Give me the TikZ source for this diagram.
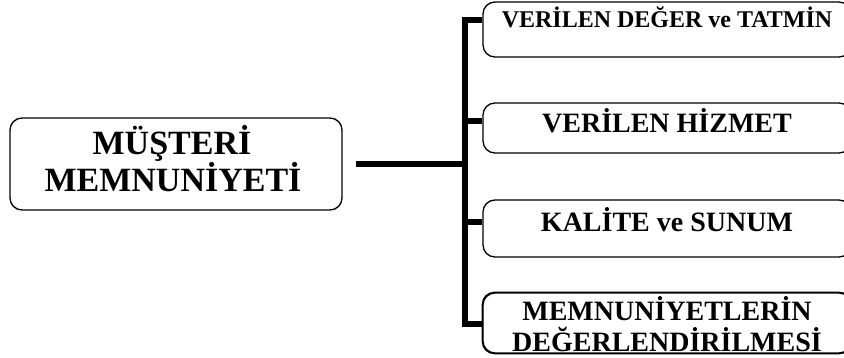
\documentclass[tikz,border=0pt]{standalone}
\usepackage{fontspec}
\setmainfont{Liberation Serif}
\begin{document}
\begin{tikzpicture}[x=1pt,y=-1pt,
  box/.style={draw=black, line width=1.3pt, rounded corners=12pt, inner sep=0pt, fill=white},
  bigtxt/.style={font=\fontsize{34}{38}\selectfont\bfseries, anchor=base, inner sep=0pt},
  midtxt/.style={font=\fontsize{28}{32}\selectfont\bfseries, anchor=base, inner sep=0pt},
  smalltxt/.style={font=\fontsize{24}{28}\selectfont\bfseries, anchor=base, inner sep=0pt},
  bar/.style={line width=5.5pt, line join=miter, line cap=butt}]
\useasboundingbox (0,0) rectangle (844,358);
\clip (0,0) rectangle (844,358);

% central topic
\node[box, minimum width=332pt, minimum height=92pt] (main) at (176,164) {};
\node[bigtxt] (mainA) at (172,155) {MÜŞTERİ};
\node[bigtxt] (mainB) at (173,192) {MEMNUNİYETİ};

% branch boxes
\node[box, minimum width=368pt, minimum height=55pt] (b1) at (667,29.5) {};
\node[box, minimum width=368pt, minimum height=50pt] (b2) at (667,128) {};
\node[box, minimum width=368pt, minimum height=57pt] (b3) at (667,228.5) {};
\node[box, minimum width=368pt, minimum height=60pt] (b4) at (667,323) {};

\node[smalltxt] (t1) at (667,28) {VERİLEN DEĞER ve TATMİN};
\node[midtxt] (t2) at (667,133) {VERİLEN HİZMET};
\node[midtxt] (t3) at (667,232) {KALİTE ve SUNUM};
\node[midtxt] (t4a) at (667,320) {MEMNUNİYETLERİN};
\begin{scope}
  \clip (b4.north west) rectangle (b4.south east);
  \node[midtxt] (t4b) at (667,352) {DEĞERLENDİRİLMESİ};
\end{scope}
\draw[line width=1.3pt, rounded corners=12pt] (b4.north west) rectangle (b4.south east);

% bus and branches
\coordinate (s1) at (465,20);
\coordinate (s2) at (465,121);
\coordinate (s3) at (465,222);
\coordinate (s4) at (465,324);
\draw[bar] (b1.west |- s1) -- (s1) -- (s4) -- (b4.west |- s4);
\draw[bar] (s2) -- (b2.west |- s2);
\draw[bar] (s3) -- (b3.west |- s3);
\draw[bar] ([xshift=13pt]main.east) -- (main.east -| s1);
\end{tikzpicture}
\end{document}
